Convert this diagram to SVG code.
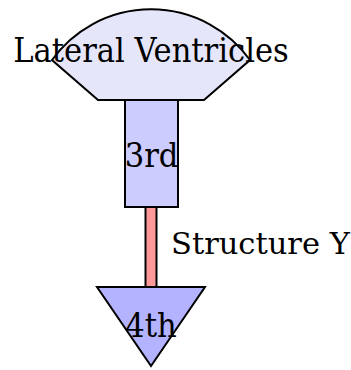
<svg xmlns="http://www.w3.org/2000/svg" width="351" height="370" viewBox="0 0 351 370">
<style>
.n{stroke:#000;stroke-width:2}
.t{font-family:"DejaVu Serif Condensed","DejaVu Serif",serif;font-stretch:condensed;font-size:34px;fill:#000}
.l{font-family:"DejaVu Serif",serif;font-size:30.5px;fill:#000}
</style>
<rect width="351" height="370" fill="#fff"/>
<g id="connectors">
<rect x="145.5" y="207" width="11" height="80" fill="#ff9999" stroke="#000" stroke-width="2"/>
<text class="l" x="171" y="254">Structure Y</text>
</g>
<g id="lateral">
<path class="n" fill="#e6e6fa" d="M98,100 L52,60 A122,122 0 0 1 250,60 L204,100 Z"/>
<text class="t" x="151" y="62" text-anchor="middle">Lateral Ventricles</text>
</g>
<g id="third">
<rect class="n" fill="#ccccff" x="125" y="100" width="53" height="107"/>
<text class="t" x="151.5" y="167" text-anchor="middle">3rd</text>
</g>
<g id="fourth">
<path class="n" fill="#b3b3ff" d="M97,287 L205,287 L151,366 Z"/>
<text class="t" x="151" y="337" text-anchor="middle">4th</text>
</g>
</svg>
